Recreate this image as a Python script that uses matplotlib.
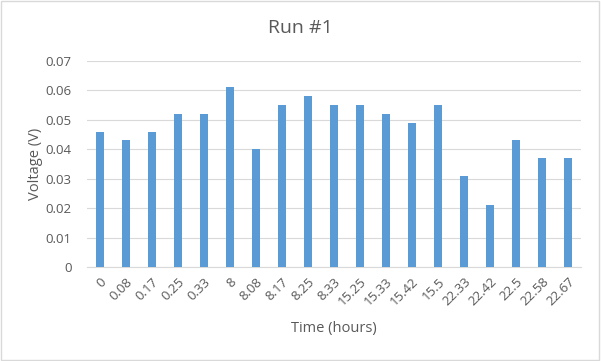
import numpy as np
import matplotlib.pyplot as plt
from matplotlib.patches import Rectangle

plt.rcParams['font.family'] = ['Open Sans', 'DejaVu Sans']

times = ['0', '0.08', '0.17', '0.25', '0.33', '8', '8.08', '8.17', '8.25', '8.33',
         '15.25', '15.33', '15.42', '15.5', '22.33', '22.42', '22.5', '22.58', '22.67']
voltage = [0.046, 0.043, 0.046, 0.052, 0.052, 0.061, 0.040, 0.055, 0.058, 0.055,
           0.055, 0.052, 0.049, 0.055, 0.031, 0.021, 0.043, 0.037, 0.037]

fig = plt.figure(figsize=(6.01, 3.61), dpi=100)
ax = fig.add_axes([87 / 601, 1 - 267 / 361, 494 / 601, 206 / 361])

x = np.arange(len(times))
ax.bar(x, voltage, width=0.32, color='#5b9bd5', zorder=3)
ax.set_xlim(-0.5, len(times) - 0.5)
ax.set_ylim(0, 0.07)
ax.set_yticks(np.arange(0, 0.071, 0.01))
ax.set_yticklabels(['0', '0.01', '0.02', '0.03', '0.04', '0.05', '0.06', '0.07'])
ax.set_xticks(x)
ax.set_xticklabels(times, rotation=45, ha='right', rotation_mode='anchor')
ax.grid(axis='y', color='#d9d9d9', linewidth=0.8, zorder=0)
for s in ['top', 'right', 'left']:
    ax.spines[s].set_visible(False)
ax.spines['bottom'].set_color('#d9d9d9')
ax.tick_params(length=0, colors='#595959', labelsize=9.5)
ax.tick_params(axis='y', pad=11)
ax.tick_params(axis='x', pad=6)

ax.set_xlabel('Time (hours)', fontsize=10.5, color='#595959', labelpad=9)
ax.set_ylabel('Voltage (V)', fontsize=10.5, color='#595959', labelpad=2)
fig.text(0.5, 1 - 28 / 361, 'Run #1', fontsize=14, color='#595959',
         ha='center', va='center')

fig.patches.append(Rectangle((0.002, 0.003), 0.995, 0.994, transform=fig.transFigure,
                             fill=False, edgecolor='#d9d9d9', linewidth=1))

fig.savefig('out.png', dpi=100)
